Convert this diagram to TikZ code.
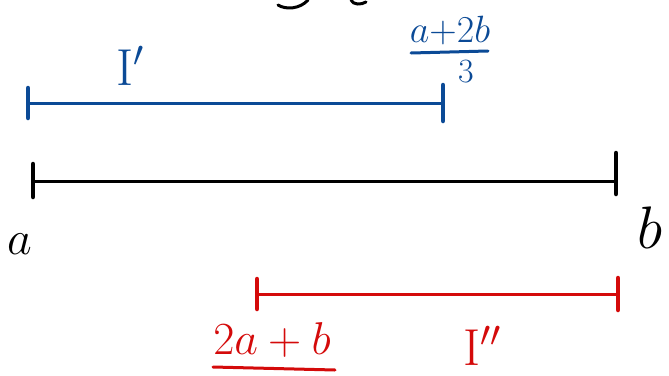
\documentclass[tikz,border=0pt]{standalone}
\usepackage{fix-cm}
\usepackage{amsmath}
\definecolor{penblue}{HTML}{0B4A96}
\definecolor{penred}{HTML}{D40A0A}
\tikzset{
  seg/.style={line width=3pt, line cap=round},
  tick/.style={line width=4.5pt, line cap=round},
  lab/.style={inner sep=0pt},
}
\begin{document}
\begin{tikzpicture}[x=1pt,y=-1pt]
\useasboundingbox (0,0) rectangle (669,375);
% partial strokes cut at top edge
\draw[line width=3pt, line cap=round] (278,5) .. controls (286,10) and (300,9) .. (308,0);
\draw[line width=3pt, line cap=round] (351,0) .. controls (353,5) and (361,5) .. (366,2);

% blue interval I'
\coordinate (bl) at (28,103);
\coordinate (br) at (443,103);
\draw[seg, penblue] (bl) -- (br);
\draw[tick, penblue] ([yshift=-15pt]bl) -- ([yshift=15pt]bl);
\draw[tick, penblue] ([yshift=-18pt]br) -- ([yshift=18pt]br);
\node[lab, penblue, font=\fontsize{52}{52}\selectfont] (Ip) at (130,66) {$\mathrm{I}'$};
\node[lab, penblue, font=\fontsize{38}{38}\selectfont] (num) at (450,31) {$a{+}2b$};
\draw[penblue, line width=3pt, line cap=round] (411,53) -- (488,51);
\node[lab, penblue, font=\fontsize{34}{34}\selectfont] (den) at (466,72) {$3$};

% black interval
\coordinate (kl) at (33,181);
\coordinate (kr) at (616,181);
\draw[seg, black] (kl) -- (kr);
\draw[tick] ([yshift=-16pt]kl) -- ([yshift=17pt]kl);
\draw[tick] ([yshift=28pt]kr) -- ([yshift=-13pt]kr);
\node[lab, font=\fontsize{48}{48}\selectfont] (a) at (20,244) {$a$};
\node[lab, font=\fontsize{60}{60}\selectfont] (b) at (650,228) {$b$};

% red interval I''
\coordinate (rl) at (257,294);
\coordinate (rr) at (618,294);
\draw[seg, penred] (rl) -- (rr);
\draw[tick, penred] ([yshift=-15pt]rl) -- ([yshift=15pt]rl);
\draw[tick, penred] ([yshift=-16pt]rr) -- ([yshift=16pt]rr);
\node[lab, penred, font=\fontsize{46}{46}\selectfont] (r2) at (272,340) {$2a+b$};
\draw[penred, line width=3pt, line cap=round] ([xshift=-59pt,yshift=-27pt]r2.center) -- ([xshift=63pt,yshift=-30pt]r2.center);
\node[lab, penred, font=\fontsize{52}{52}\selectfont] (Ipp) at (482,346) {$\mathrm{I}''$};
\end{tikzpicture}
\end{document}
